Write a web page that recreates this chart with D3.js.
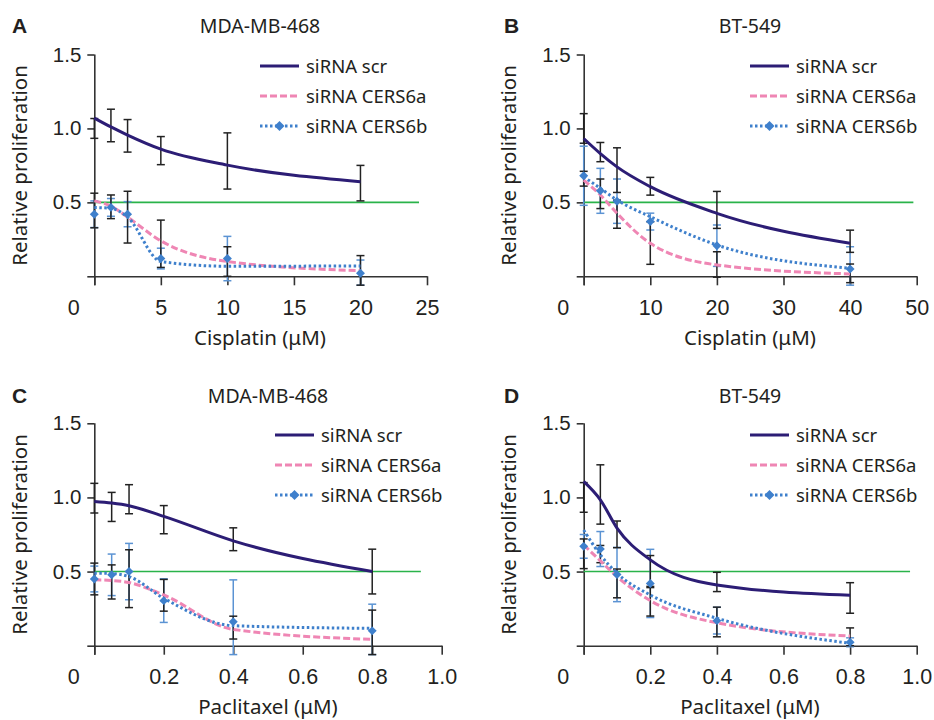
<!DOCTYPE html>
<html><head><meta charset="utf-8">
<script src="https://cdn.jsdelivr.net/npm/d3@7"></script>
<style>
body{margin:0;background:#fff;}
svg{display:block;}
</style></head>
<body>
<svg id="chart" width="934" height="720"></svg>
<script>
// ---------- data ----------
const xCisA = [0, 1.25, 2.5, 5, 10, 20];
const xCisB = [0, 2.5, 5, 10, 20, 40];
const xPac  = [0, 0.05, 0.1, 0.2, 0.4, 0.8];

const xTicksA = [0, 5, 10, 15, 20, 25];
const xTicksB = [0, 10, 20, 30, 40, 50];
const xTicksP = [0, 0.2, 0.4, 0.6, 0.8, 1.0];
const yTicks = [0, 0.5, 1.0, 1.5];
const yTickLabels = ["", "0.5", "1.0", "1.5"];

const seriesNames = ["siRNA scr", "siRNA CERS6a", "siRNA CERS6b"];
const panelLetters = ["A", "B", "C", "D"];
const panelTitles = ["MDA-MB-468", "BT-549", "MDA-MB-468", "BT-549"];
const xTitles = ["Cisplatin (μM)", "Cisplatin (μM)", "Paclitaxel (μM)", "Paclitaxel (μM)"];
const yTitle = "Relative proliferation";
const halfLine = 0.5;
const halfLineEnd = [24.4, 49.5, 0.94, 0.98];

// Panel A  (MDA-MB-468, cisplatin)
const scrMeanA = [1.0, 1.02, 0.95, 0.85, 0.78, 0.63];
const scrErrA  = [0.067, 0.11, 0.11, 0.095, 0.19, 0.12];
const scrFitA  = [1.07, 1.01, 0.955, 0.86, 0.752, 0.64];
const aMeanA = [0.445, 0.47, 0.40, 0.22, 0.10, 0.04];
const aErrA  = [0.117, 0.08, 0.175, 0.16, 0.10, 0.10];
const aFitA  = [0.51, 0.475, 0.40, 0.24, 0.10, 0.038];
const bMeanA = [0.42, 0.466, 0.42, 0.12, 0.12, 0.02];
const bErrA  = [0.09, 0.06, 0.085, 0.07, 0.15, 0.09];
const bFitA  = [0.465, 0.46, 0.40, 0.10, 0.068, 0.07];

// Panel B  (BT-549, cisplatin)
const scrMeanB = [1.0, 0.84, 0.718, 0.609, 0.449, 0.237];
const scrErrB  = [0.1, 0.065, 0.151, 0.06, 0.125, 0.075];
const scrFitB  = [0.932, 0.83, 0.74, 0.606, 0.426, 0.223];
const aMeanB = [0.66, 0.558, 0.42, 0.225, 0.08, 0.02];
const aErrB  = [0.05, 0.1, 0.095, 0.144, 0.086, 0.063];
const aFitB  = [0.651, 0.55, 0.426, 0.223, 0.077, 0.016];
const bMeanB = [0.68, 0.578, 0.508, 0.37, 0.207, 0.05];
const bErrB  = [0.2, 0.152, 0.15, 0.057, 0.14, 0.15];
const bFitB  = [0.673, 0.595, 0.516, 0.403, 0.212, 0.054];

// Panel C  (MDA-MB-468, paclitaxel)
const scrMeanC = [0.995, 0.936, 0.988, 0.85, 0.718, 0.5];
const scrErrC  = [0.1, 0.098, 0.098, 0.095, 0.077, 0.151];
const scrFitC  = [0.973, 0.962, 0.944, 0.872, 0.707, 0.5];
const aMeanC = [0.45, 0.43, 0.452, 0.34, 0.122, 0.05];
const aErrC  = [0.107, 0.115, 0.195, 0.107, 0.077, 0.19];
const aFitC  = [0.444, 0.44, 0.426, 0.342, 0.11, 0.043];
const bMeanC = [0.45, 0.478, 0.5, 0.304, 0.162, 0.1];
const bErrC  = [0.087, 0.14, 0.19, 0.147, 0.282, 0.18];
const bFitC  = [0.489, 0.487, 0.466, 0.32, 0.135, 0.117];

// Panel D  (BT-549, paclitaxel)
const scrMeanD = [1.0, 1.02, 0.751, 0.5, 0.43, 0.322];
const scrErrD  = [0.1, 0.2, 0.09, 0.108, 0.065, 0.103];
const scrFitD  = [1.108, 0.984, 0.793, 0.579, 0.41, 0.34];
const aMeanD = [0.62, 0.618, 0.42, 0.3, 0.16, 0.06];
const aErrD  = [0.1, 0.058, 0.097, 0.1, 0.1, 0.06];
const aFitD  = [0.68, 0.572, 0.466, 0.304, 0.155, 0.065];
const bMeanD = [0.67, 0.652, 0.48, 0.42, 0.169, 0.023];
const bErrD  = [0.08, 0.118, 0.183, 0.23, 0.09, 0.03];
const bFitD  = [0.78, 0.613, 0.489, 0.342, 0.185, 0.016];

// ---------- layout / styles ----------
const C_SCR = "#2c1d75", C_A = "#ef86b4", C_B = "#3f80cc", C_BERR = "#5b93d3", C_GREEN = "#2ab34a";
const TXT = "#231f20";
const SANS = "'Noto Sans', 'Open Sans', sans-serif";
const NUM = "'Liberation Sans', Arial, sans-serif";

const panels = [
  {x: xCisA, xMax: 25, xTicks: xTicksA, fmt: d => String(d), px: [94.3, 427], py: [276.3, 54.5],
   scr: [scrMeanA, scrErrA, scrFitA], a: [aMeanA, aErrA, aFitA], b: [bMeanA, bErrA, bFitA],
   leg: [260, 66], title: [260, 33], letter: [12, 33], yt: 27, xt: [260, 345]},
  {x: xCisB, xMax: 50, xTicks: xTicksB, fmt: d => String(d), px: [583.7, 916.7], py: [276.3, 54.5],
   scr: [scrMeanB, scrErrB, scrFitB], a: [aMeanB, aErrB, aFitB], b: [bMeanB, bErrB, bFitB],
   leg: [750, 66], title: [750, 33], letter: [504, 33], yt: 516, xt: [750, 345]},
  {x: xPac, xMax: 1.0, xTicks: xTicksP, fmt: d => d === 0 ? "0" : d.toFixed(1), px: [94.3, 441.7], py: [645.7, 423.3],
   scr: [scrMeanC, scrErrC, scrFitC], a: [aMeanC, aErrC, aFitC], b: [bMeanC, bErrC, bFitC],
   leg: [275, 435], title: [268, 403], letter: [12, 403], yt: 27, xt: [268, 714]},
  {x: xPac, xMax: 1.0, xTicks: xTicksP, fmt: d => d === 0 ? "0" : d.toFixed(1), px: [583.7, 916.7], py: [645.7, 423.3],
   scr: [scrMeanD, scrErrD, scrFitD], a: [aMeanD, aErrD, aFitD], b: [bMeanD, bErrD, bFitD],
   leg: [750, 435], title: [750, 403], letter: [504, 403], yt: 516, xt: [750, 714]}
];

const svg = d3.select("#chart");

panels.forEach((p, i) => {
  const g = svg.append("g");
  const x = d3.scaleLinear().domain([0, p.xMax]).range(p.px);
  const y = d3.scaleLinear().domain([0, 1.5]).range(p.py);

  // titles
  g.append("text").attr("x", p.letter[0]).attr("y", p.letter[1])
    .attr("font-family", NUM).attr("font-weight", "bold").attr("font-size", 21).attr("fill", TXT)
    .text(panelLetters[i]);
  g.append("text").attr("x", p.title[0]).attr("y", p.title[1]).attr("text-anchor", "middle")
    .attr("font-family", SANS).attr("font-size", 19.5).attr("fill", TXT).text(panelTitles[i]);
  g.append("text").attr("x", p.xt[0]).attr("y", p.xt[1]).attr("text-anchor", "middle")
    .attr("font-family", SANS).attr("font-size", 20.5).attr("fill", TXT).text(xTitles[i]);
  g.append("text").attr("transform", `translate(${p.yt},${(p.py[0] + p.py[1]) / 2}) rotate(-90)`)
    .attr("text-anchor", "middle")
    .attr("font-family", SANS).attr("font-size", 20.5).attr("fill", TXT).text(yTitle);

  // axes
  const yAxis = d3.axisLeft(y).tickValues(yTicks).tickSize(7).tickSizeOuter(0)
    .tickPadding(6).tickFormat((d, k) => yTickLabels[k]);
  const ya = g.append("g").attr("transform", `translate(${p.px[0]},0)`).call(yAxis);
  const xAxis = d3.axisBottom(x).tickValues(p.xTicks).tickSize(9).tickSizeOuter(0)
    .tickPadding(14).tickFormat(p.fmt);
  const xa = g.append("g").attr("transform", `translate(0,${p.py[0]})`).call(xAxis);
  [ya, xa].forEach(a => {
    a.select(".domain").attr("stroke", "#333").attr("stroke-width", 1.6);
    a.selectAll(".tick line").attr("stroke", "#333").attr("stroke-width", 1.6);
    a.selectAll(".tick text").attr("fill", TXT).attr("font-family", NUM);
  });
  ya.selectAll(".tick text").attr("font-size", 20.5);
  xa.selectAll(".tick text").attr("font-size", 21.5);
  xa.selectAll(".tick text").filter(d => d === 0).attr("x", -21);
  // extend y axis line down to bottom of x ticks
  ya.select(".domain").attr("d", `M0.5,${y(0) + 9}V${y(1.5)}`);

  // 50% line
  g.append("line").attr("x1", x(0)).attr("x2", x(halfLineEnd[i]))
    .attr("y1", y(halfLine)).attr("y2", y(halfLine))
    .attr("stroke", C_GREEN).attr("stroke-width", 1.6);

  // error bars
  const errbars = (mean, err, color) => {
    const eg = g.append("g").attr("stroke", color).attr("stroke-width", 1.5).attr("fill", "none");
    p.x.forEach((xv, k) => {
      const lo = Math.max(mean[k] - err[k], -0.06), hi = mean[k] + err[k];
      const cx = x(xv);
      eg.append("line").attr("x1", cx).attr("x2", cx).attr("y1", y(lo)).attr("y2", y(hi));
      eg.append("line").attr("x1", cx - 4).attr("x2", cx + 4).attr("y1", y(lo)).attr("y2", y(lo));
      eg.append("line").attr("x1", cx - 4).attr("x2", cx + 4).attr("y1", y(hi)).attr("y2", y(hi));
    });
  };
  errbars(p.b[0], p.b[1], C_BERR);
  errbars(p.scr[0], p.scr[1], "#222");
  errbars(p.a[0], p.a[1], "#222");

  // fitted curves
  const line = d3.line().x(d => x(d[0])).y(d => y(d[1])).curve(d3.curveMonotoneX);
  const pts = arr => p.x.map((xv, k) => [xv, arr[k]]);
  g.append("path").attr("d", line(pts(p.a[2]))).attr("fill", "none")
    .attr("stroke", C_A).attr("stroke-width", 3).attr("stroke-dasharray", "7,3");
  g.append("path").attr("d", line(pts(p.b[2]))).attr("fill", "none")
    .attr("stroke", C_B).attr("stroke-width", 3).attr("stroke-dasharray", "2.5,2.5");
  g.append("path").attr("d", line(pts(p.scr[2]))).attr("fill", "none")
    .attr("stroke", C_SCR).attr("stroke-width", 3);

  // diamonds
  const sym = d3.symbol(d3.symbolSquare, 40);
  g.selectAll(".dm").data(pts(p.b[0])).enter().append("path")
    .attr("d", sym).attr("fill", C_B)
    .attr("transform", d => `translate(${x(d[0])},${y(d[1])}) rotate(45)`);

  // legend
  const [lx, ly] = p.leg;
  const styles = [
    {stroke: C_SCR, dash: null}, {stroke: C_A, dash: "7,3"}, {stroke: C_B, dash: "2.5,2.5"}
  ];
  seriesNames.forEach((name, k) => {
    const yy = ly + k * 30;
    g.append("line").attr("x1", lx).attr("x2", lx + 39).attr("y1", yy).attr("y2", yy)
      .attr("stroke", styles[k].stroke).attr("stroke-width", 3)
      .attr("stroke-dasharray", styles[k].dash);
    if (k === 2) {
      g.append("path").attr("d", d3.symbol(d3.symbolSquare, 50))
        .attr("fill", C_B).attr("transform", `translate(${lx + 19.5},${yy}) rotate(45)`);
    }
    g.append("text").attr("x", lx + 46).attr("y", yy + 6.5)
      .attr("font-family", SANS).attr("font-size", 18.5).attr("fill", TXT).text(name);
  });
});
</script>
</body></html>
